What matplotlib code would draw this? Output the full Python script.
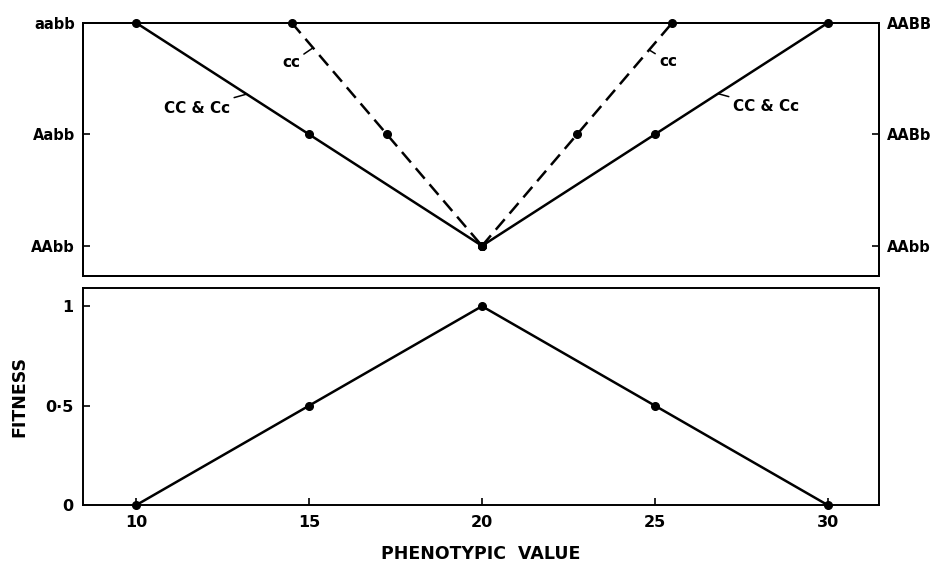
import matplotlib
matplotlib.use('Agg')
import matplotlib.pyplot as plt

# Genotype scale (upper panel): left solid = CC & Cc, dashed = cc
genotype_left = ["AAbb", "Aabb", "aabb"]
genotype_right = ["AAbb", "AABb", "AABB"]
geno_levels = [0, 1, 2]

solid_left_x = [10, 15, 20]
solid_right_x = [20, 25, 30]
dashed_left_x = [14.5, 17.25, 20]
dashed_right_x = [20, 22.75, 25.5]
left_levels = [2, 1, 0]
right_levels = [0, 1, 2]

# Fitness (lower panel)
phenotype = [10, 15, 20, 25, 30]
fitness = [0, 0.5, 1, 0.5, 0]
x_ticks = [10, 15, 20, 25, 30]
x_tick_labels = ["10", "15", "20", "25", "30"]
fit_ticks = [0, 0.5, 1]
fit_tick_labels = ["0", "0·5", "1"]

plt.rcParams['font.family'] = ['DejaVu Sans']
ink = "black"
lw = 1.8
ms = 5.5

fig = plt.figure(figsize=(9.42, 5.63), dpi=100)
ax1 = fig.add_axes([0.0884, 0.5098, 0.8447, 0.4499])
ax2 = fig.add_axes([0.0884, 0.1025, 0.8447, 0.3851])

xlim = (8.48, 31.47)

# upper panel lines
for xs, ys in [(solid_left_x, left_levels), (solid_right_x, right_levels)]:
    ax1.plot(xs, ys, color=ink, lw=lw, marker='o', ms=ms, clip_on=False, zorder=3)
for xs, ys in [(dashed_left_x, left_levels), (dashed_right_x, right_levels)]:
    ax1.plot(xs, ys, color=ink, lw=lw, ls=(0, (5.5, 3)), marker='o', ms=ms,
             clip_on=False, zorder=3)

ax1.set_xlim(*xlim)
ax1.set_ylim(-0.27, 2)
ax1.set_xticks([])
ax1.set_yticks(geno_levels)
ax1.set_yticklabels(genotype_left, fontsize=10.5, fontweight='bold')
ax1.tick_params(axis='y', direction='in', length=5, width=1.2, pad=6,
                left=True, right=True)

ax1r = ax1.twinx()
ax1r.set_ylim(ax1.get_ylim())
ax1r.set_yticks(geno_levels)
ax1r.set_yticklabels(genotype_right, fontsize=10.5, fontweight='bold')
ax1r.tick_params(axis='y', direction='in', length=5, width=1.2, pad=6)

# line labels with short leaders
lab_kw = dict(fontsize=11, fontweight='bold', va='center',
              arrowprops=dict(arrowstyle='-', lw=1.1, color=ink, shrinkA=1, shrinkB=0))
ax1.annotate("CC & Cc", xy=(13.2, 1.36), xytext=(12.72, 1.235), ha='right', **lab_kw)
ax1.annotate("cc", xy=(15.12, 1.775), xytext=(14.74, 1.64), ha='right', **lab_kw)
ax1.annotate("cc", xy=(24.83, 1.756), xytext=(25.12, 1.65), ha='left', **lab_kw)
ax1.annotate("CC & Cc", xy=(26.82, 1.364), xytext=(27.25, 1.245), ha='left', **lab_kw)

# lower panel
ax2.plot(phenotype, fitness, color=ink, lw=lw, marker='o', ms=ms, clip_on=False, zorder=3)
ax2.set_xlim(*xlim)
ax2.set_ylim(0, 1.089)
ax2.set_xticks(x_ticks)
ax2.set_xticklabels(x_tick_labels, fontsize=11.5, fontweight='bold')
ax2.set_yticks(fit_ticks)
ax2.set_yticklabels(fit_tick_labels, fontsize=11.5, fontweight='bold')
ax2.tick_params(direction='in', length=5, width=1.2, pad=7)
ax2.set_ylabel("FITNESS", fontsize=12.5, fontweight='bold', labelpad=12)
ax2.set_xlabel("PHENOTYPIC  VALUE", fontsize=12.5, fontweight='bold', labelpad=11)

for ax in (ax1, ax1r, ax2):
    for sp in ax.spines.values():
        sp.set_linewidth(1.4)
        sp.set_color(ink)

fig.savefig("out.png", dpi=100, facecolor="white")
